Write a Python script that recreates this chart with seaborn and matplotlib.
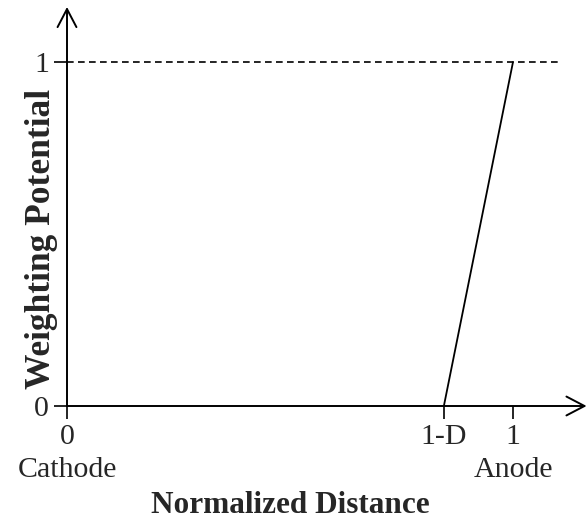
import matplotlib
matplotlib.use("Agg")
import matplotlib.pyplot as plt
import seaborn as sns
import pandas as pd

# ---- data ----
one_minus_d = 0.845
line_x = [one_minus_d, 1.0]
line_y = [0.0, 1.0]
dash_x = [0.0, 1.11]
dash_y = [1.0, 1.0]
xtick_pos = [0.0, one_minus_d, 1.0]
xtick_labels = ["0", "1-D", "1"]
ytick_pos = [0.0, 1.0]
ytick_labels = ["0", "1"]
end_labels = ["Cathode", "Anode"]
end_pos = [0.0, 1.0]
x_max = 1.165
y_max = 1.16

sns.set_style("white")
plt.rcParams["font.family"] = ["Liberation Serif", "DejaVu Serif"]

W, H = 588, 523
fig = plt.figure(figsize=(W / 100, H / 100), dpi=100)
ax = fig.add_axes([67 / W, 117 / H, x_max * 446 / W, y_max * 344 / H])

df_line = pd.DataFrame({"x": line_x, "y": line_y})
df_dash = pd.DataFrame({"x": dash_x, "y": dash_y})
sns.lineplot(data=df_line, x="x", y="y", ax=ax, color="black", lw=1.3,
             sort=False, estimator=None)
sns.lineplot(data=df_dash, x="x", y="y", ax=ax, color="black", lw=1.2,
             sort=False, estimator=None, dashes=False)
ax.lines[-1].set_dashes((4.0, 2.6))

ax.set_xlim(0, x_max)
ax.set_ylim(0, y_max)
for s in ax.spines.values():
    s.set_visible(False)

arrow_props = dict(arrowstyle="->,head_length=0.65,head_width=0.34", lw=1.4,
                   color="black", shrinkA=0, shrinkB=0, mutation_scale=20)
ax.annotate("", xy=(x_max, 0), xytext=(0, 0), arrowprops=arrow_props,
            annotation_clip=False)
ax.annotate("", xy=(0, y_max), xytext=(0, 0), arrowprops=arrow_props,
            annotation_clip=False)

ax.set_xticks(xtick_pos)
ax.set_xticklabels(xtick_labels)
ax.set_yticks(ytick_pos)
ax.set_yticklabels(ytick_labels)
ax.tick_params(axis="both", which="major", direction="out", length=9.5,
               width=1.2, color="black", labelsize=21.5, pad=3.5,
               left=True, bottom=True)

for lab, xp in zip(end_labels, end_pos):
    ax.text(xp, -71 / 399, lab, transform=ax.get_xaxis_transform(),
            ha="center", va="baseline", fontsize=21.5)

ax.set_xlabel("Normalized Distance", fontsize=22.5, fontweight="bold",
              va="baseline")
ax.xaxis.set_label_coords((291 - 67) / 522, (406 - 513) / 399)
ax.set_ylabel("Weighting Potential", fontsize=25.5, fontweight="bold",
              va="center")
ax.yaxis.set_label_coords((41 - 67) / 522, (406 - 239) / 399)
ax.grid(False)

fig.savefig("out.png", dpi=100)
